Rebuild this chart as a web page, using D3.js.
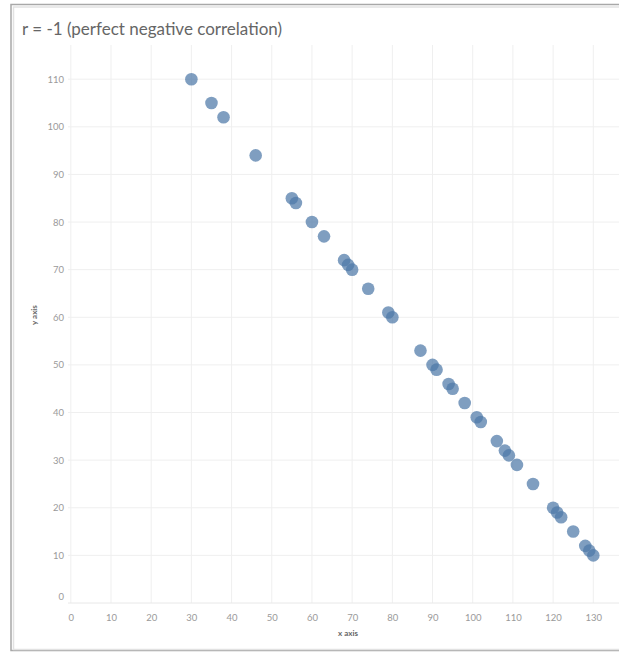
<!DOCTYPE html>
<html>
<head>
<meta charset="utf-8">
<script src="https://cdn.jsdelivr.net/npm/d3@7"></script>
<style>
  html, body { margin: 0; padding: 0; background: #fff; }
  svg { display: block; }
</style>
</head>
<body>
<svg id="chart" width="619" height="652"></svg>
<script>
const titleText = "r = -1 (perfect negative correlation)";
const xValues = [30, 35, 38, 46, 55, 56, 60, 63, 68, 69, 70, 74, 79, 80, 87, 90, 91, 94, 95, 98, 101, 102, 106, 108, 109, 111, 115, 120, 121, 122, 125, 128, 129, 130];
const yValues = [110, 105, 102, 94, 85, 84, 80, 77, 72, 71, 70, 66, 61, 60, 53, 50, 49, 46, 45, 42, 39, 38, 34, 32, 31, 29, 25, 20, 19, 18, 15, 12, 11, 10];
const xTicks = [0, 10, 20, 30, 40, 50, 60, 70, 80, 90, 100, 110, 120, 130];
const yTicks = [0, 10, 20, 30, 40, 50, 60, 70, 80, 90, 100, 110];
const xTitle = "x axis";
const yTitle = "y axis";

const svg = d3.select("#chart");
const W = 619, H = 652;
const font = "Lato, 'Open Sans', sans-serif";

// frame
svg.append("rect").attr("x", 11).attr("y", 4.5).attr("width", W + 10).attr("height", 646)
  .attr("fill", "none").attr("stroke", "#a8a8a8").attr("stroke-width", 1.5);
svg.append("rect").attr("x", 13.5).attr("y", 7).attr("width", W + 10).attr("height", 642.5)
  .attr("fill", "none").attr("stroke", "#e2e2e2").attr("stroke-width", 1.5);

svg.append("text").attr("x", 22).attr("y", 35).text(titleText)
  .attr("font-family", font).attr("font-size", 17).attr("fill", "#666");

const plot = { left: 68, right: 625, top: 45, bottom: 603 };
const x = d3.scaleLinear().domain([0, 130]).range([70.8, 593.3]);
const y = d3.scaleLinear().domain([0, 110]).range([603, 79.2]);

// gridlines
svg.append("g").selectAll("line").data(xTicks).join("line")
  .attr("x1", d => x(d)).attr("x2", d => x(d))
  .attr("y1", plot.top).attr("y2", plot.bottom)
  .attr("stroke", "#efefef").attr("stroke-width", 1);
svg.append("g").selectAll("line").data(yTicks).join("line")
  .attr("x1", plot.left).attr("x2", W)
  .attr("y1", d => y(d)).attr("y2", d => y(d))
  .attr("stroke", d => d === 0 ? "#e8e8e8" : "#efefef").attr("stroke-width", 1);

// axes labels via d3 axes
const xAxis = svg.append("g").attr("transform", `translate(0,${plot.bottom})`)
  .call(d3.axisBottom(x).tickValues(xTicks).tickSize(0).tickPadding(11));
xAxis.select(".domain").remove();
xAxis.selectAll("text").attr("font-family", font).attr("font-size", 9.5).attr("fill", "#9a9a9a");

const yAxis = svg.append("g").attr("transform", `translate(${plot.left},0)`)
  .call(d3.axisLeft(y).tickValues(yTicks).tickSize(0).tickPadding(4));
yAxis.select(".domain").remove();
yAxis.selectAll("text").attr("font-family", font).attr("font-size", 9.5).attr("fill", "#9a9a9a")
  .attr("dy", d => d === 0 ? "-0.4em" : "0.32em");

svg.append("text").attr("x", 348).attr("y", 636).attr("text-anchor", "middle")
  .attr("font-family", font).attr("font-size", 8).attr("font-weight", "bold").attr("fill", "#666")
  .text(xTitle);
svg.append("text").attr("transform", "translate(37,315) rotate(-90)").attr("text-anchor", "middle")
  .attr("font-family", font).attr("font-size", 8).attr("font-weight", "bold").attr("fill", "#666")
  .text(yTitle);

// points
svg.append("g").selectAll("circle").data(xValues.map((v, i) => [v, yValues[i]])).join("circle")
  .attr("cx", d => x(d[0])).attr("cy", d => y(d[1])).attr("r", 6.3)
  .attr("fill", "#4e79a7").attr("fill-opacity", 0.72);
</script>
</body>
</html>
